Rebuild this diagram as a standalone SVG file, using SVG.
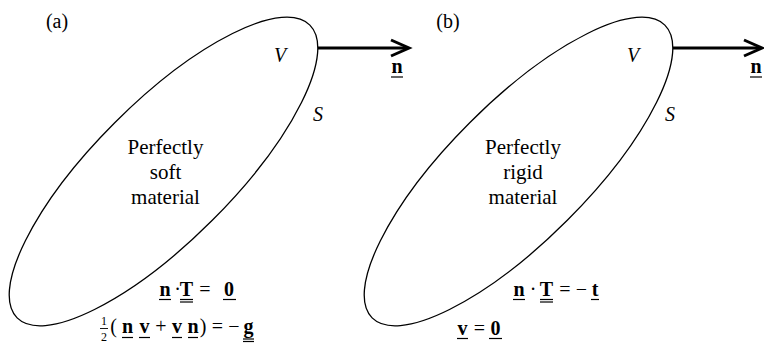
<svg xmlns="http://www.w3.org/2000/svg" width="764" height="344" viewBox="0 0 764 344">
<defs>
<style>
.ell{fill:none;stroke:#000;stroke-width:1.3}
.arr{fill:none;stroke:#000;stroke-width:3}
.head{fill:none;stroke:#000;stroke-width:3;stroke-linejoin:miter;stroke-linecap:butt}
text{font-family:'Liberation Serif','DejaVu Serif',serif;fill:#000;text-anchor:middle}
.t{font-size:21px}
.i{font-size:20px;font-style:italic}
.b{font-size:20px;font-weight:bold}
.r{font-size:20px}
.s{font-size:12px}
.u{stroke:#000;stroke-width:1.2}
</style>
</defs>
<rect width="764" height="344" fill="#fff"/>

<g id="panel-a">
<text class="r" x="57" y="28">(a)</text>
<g id="body-a">
<ellipse class="ell" cx="163.5" cy="171.5" rx="207" ry="69" transform="rotate(-45 163.5 171.5)"/>
<text class="i" x="280" y="62">V</text>
<text class="i" x="318" y="121">S</text>
<text class="t" x="165.5" y="154">Perfectly</text>
<text class="t" x="165.5" y="179">soft</text>
<text class="t" x="165.5" y="204">material</text>
</g>
<g id="eq-a1">
<text class="b" x="165" y="296">n</text>
<text class="r" x="177.5" y="296">·</text>
<text class="b" x="186.5" y="296">T</text>
<text class="r" x="205" y="296">=</text>
<text class="b" x="229" y="296">0</text>
<line class="u" x1="159" y1="299.5" x2="171" y2="299.5"/>
<line class="u" x1="180" y1="299.5" x2="193" y2="299.5"/>
<line class="u" x1="180" y1="302" x2="193" y2="302"/>
<line class="u" x1="223" y1="299.5" x2="236" y2="299.5"/>
</g>
<g id="eq-a2">
<text class="s" x="104" y="325">1</text>
<line class="u" x1="100" y1="328.5" x2="108" y2="328.5" style="stroke-width:0.9"/>
<text class="s" x="104" y="341">2</text>
<text class="r" x="113.5" y="333">(</text>
<text class="b" x="127.5" y="333">n</text>
<text class="b" x="144.5" y="333">v</text>
<text class="r" x="161" y="333">+</text>
<text class="b" x="177" y="333">v</text>
<text class="b" x="193" y="333">n</text>
<text class="r" x="203" y="333">)</text>
<text class="r" x="217.5" y="333">=</text>
<text class="r" x="234" y="333">−</text>
<text class="b" x="248.5" y="333">g</text>
<line class="u" x1="122" y1="337.5" x2="133" y2="337.5"/>
<line class="u" x1="139" y1="337.5" x2="150" y2="337.5"/>
<line class="u" x1="172" y1="337.5" x2="182" y2="337.5"/>
<line class="u" x1="188" y1="337.5" x2="198" y2="337.5"/>
<line class="u" x1="243" y1="339" x2="254" y2="339"/>
<line class="u" x1="243" y1="341.5" x2="254" y2="341.5"/>
</g>
<g id="normal-a">
<text class="b" x="397" y="73">n</text>
<line class="u" x1="391" y1="77" x2="403" y2="77"/>
</g>
</g>

<g id="panel-b">
<text class="r" x="448" y="28">(b)</text>
<g id="body-b">
<ellipse class="ell" cx="518.5" cy="171.5" rx="207" ry="69" transform="rotate(-45 518.5 171.5)"/>
<text class="i" x="633" y="62">V</text>
<text class="i" x="670" y="121">S</text>
<text class="t" x="523" y="154">Perfectly</text>
<text class="t" x="523" y="179">rigid</text>
<text class="t" x="523" y="204">material</text>
</g>
<g id="eq-b1">
<text class="b" x="519" y="296">n</text>
<text class="r" x="533" y="296">·</text>
<text class="b" x="546.5" y="296">T</text>
<text class="r" x="565" y="296">=</text>
<text class="r" x="581.5" y="296">−</text>
<text class="b" x="595" y="296">t</text>
<line class="u" x1="513" y1="299.5" x2="525" y2="299.5"/>
<line class="u" x1="540" y1="299.5" x2="553" y2="299.5"/>
<line class="u" x1="540" y1="302" x2="553" y2="302"/>
<line class="u" x1="591" y1="299.5" x2="599" y2="299.5"/>
</g>
<g id="eq-b2">
<text class="b" x="462.5" y="335">v</text>
<text class="r" x="479.5" y="335">=</text>
<text class="b" x="495.5" y="335">0</text>
<line class="u" x1="457" y1="338.5" x2="468" y2="338.5"/>
<line class="u" x1="489" y1="338.5" x2="502" y2="338.5"/>
</g>
<g id="normal-b">
<text class="b" x="756" y="73">n</text>
<line class="u" x1="750" y1="77" x2="762" y2="77"/>
</g>
</g>

<g id="connectors">
<line class="arr" x1="318" y1="48" x2="408" y2="48"/>
<polyline class="head" points="391,40 409,48 391,56"/>
<line class="arr" x1="673" y1="48" x2="761" y2="48"/>
<polyline class="head" points="744,40 762,48 744,56"/>
</g>
</svg>
